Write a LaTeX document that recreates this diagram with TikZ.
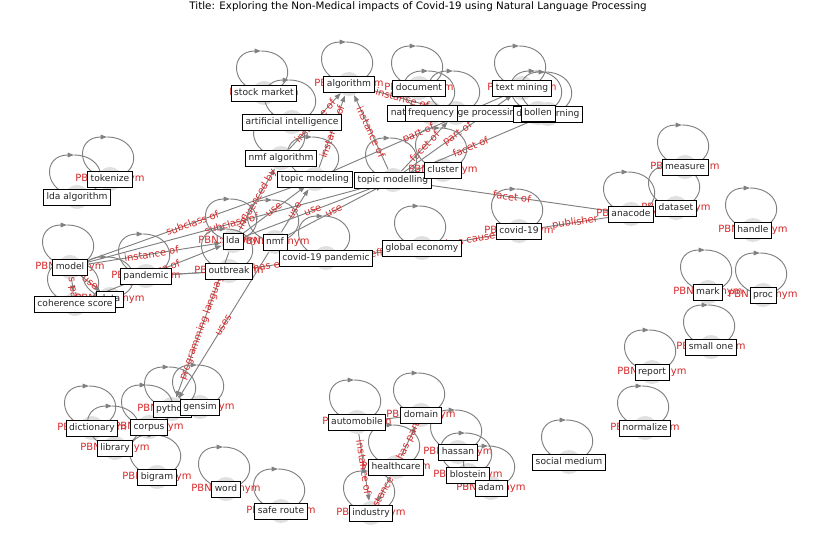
\documentclass[tikz,border=0pt]{standalone}
\usepackage{fontspec}
\setmainfont{DejaVu Sans}
\usetikzlibrary{arrows.meta}
\definecolor{pbnred}{RGB}{214,39,40}
\definecolor{linkgray}{RGB}{128,128,128}
\tikzset{
	marker/.style={circle, fill=black!12, minimum size=20.5pt, inner sep=0pt},
	link/.style={draw=linkgray, line width=0.8pt, -{Triangle[length=5.5pt,width=4pt]}},
	elab/.style={sloped, midway, text=pbnred, font=\fontsize{8.5}{10}\selectfont, inner sep=0pt},
	synlab/.style={text=pbnred, font=\fontsize{8.5}{10}\selectfont, inner sep=0pt},
	lbl/.style={draw=black, fill=white, line width=0.8pt, text=black!85, font=\fontsize{7.8}{9}\selectfont, inner xsep=2.6pt, inner ysep=3pt, text height=6pt, text depth=1.7pt}
}
\def\termlist{sm/264/93/stock market, alg/349/84/algorithm, doc/419/88/document, tm/522/88/text mining,
	nlp/456/113/natural language processing, freq/431/113/frequency, dl/548/114/deep learning, bol/538/113/bollen,
	ai/292/122/artificial intelligence, nmfa/281/158/nmf algorithm, tmg/315/179/topic modeling, tml/393/180/topic modelling,
	clu/443/170/cluster, tok/110/179/tokenize, ldaa/77/197/lda algorithm, mea/685/167/measure, dset/676/208/dataset,
	ana/631/214/anacode, hdl/753/230/handle, cov/519/231/covid-19, ge/422/248/global economy, cp/326/258/covid-19 pandemic,
	lda/233/241/lda, nmf/275/242/nmf, ob/229/271/outbreak, pan/146/276/pandemic, model/70/267/model, data/110/299/data,
	cs/75/304/coherence score, mark/708/292/mark, proc/763/295/proc, so/711/347/small one, rep/652/372/report,
	norm/645/428/normalize, smed/569/462/social medium, auto/357/422/automobile, dom/421/415/domain, has/458/452/hassan,
	hc/396/467/healthcare, blo/468/475/blostein, adam/491/488/adam, ind/371/513/industry, dict/92/428/dictionary,
	py/172/409/python, gen/200/407/gensim, corp/149/427/corpus, lib/115/448/library, big/157/477/bigram,
	word/226/489/word, sr/281/511/safe route}
\begin{document}
\begin{tikzpicture}[x=0.03cm, y=-0.03cm]
	\useasboundingbox (0,0) rectangle (837,559);
	\node[font=\fontsize{8.8}{10}\selectfont] (title) at (418,7) {Title: Exploring the Non-Medical impacts of Covid-19 using Natural Language Processing};
	\foreach \n/\x/\y/\t in \termlist {
		\node[marker] (\n) at (\x,\y) {};
	}
	\draw[link] (model) -- node[elab]{subclass of} (tmg);
	\draw[link] (model) -- node[elab]{subclass of} (tml);
	\draw[link] (model) -- node[elab]{instance of} (lda);
	\draw[link] (model) -- node[elab]{use} (data);
	\draw[link] (model) -- node[elab]{has part} (cs);
	\draw[link] (cs) -- node[elab]{instance of} (lda);
	\draw[link] (lda) -- node[elab]{use} (tmg);
	\draw[link] (nmf) -- node[elab]{use} (tmg);
	\draw[link] (lda) -- node[elab]{use} (tml);
	\draw[link] (nmf) -- node[elab]{use} (tml);
	\draw[link] (lda) -- node[elab]{influenced by} (nmfa);
	\draw[link] (nmfa) -- node[elab]{instance of} (alg);
	\draw[link] (tmg) -- node[elab]{instance of} (alg);
	\draw[link] (tml) -- node[elab]{instance of} (alg);
	\draw[link] (alg) -- node[elab]{instance of} (nlp);
	\draw[link] (tmg) -- node[elab]{part of} (tm);
	\draw[link] (tml) -- node[elab]{facet of} (nlp);
	\draw[link] (tml) -- node[elab]{part of} (tm);
	\draw[link] (tml) -- node[elab]{facet of} (dl);
	\draw[link] (tml) -- node[elab]{facet of} (ana);
	\draw[link] (cov) -- node[elab]{publisher} (ana);
	\draw[link] (ge) -- node[elab]{has cause} (cov);
	\draw[link] (cp) -- node[elab]{has effect} (ge);
	\draw[link] (ob) -- node[elab]{has effect} (cp);
	\draw[link] (pan) -- (ob);
	\draw[link] (ob) -- (pan);
	\draw[link] (lda) -- node[elab]{programming language} (py);
	\draw[link] (nmf) -- node[elab]{uses} (py);
	\draw[link] (auto) -- node[elab]{instance of} (ind);
	\draw[link] (auto) -- (dom);
	\draw[link] (hc) -- node[elab]{has part} (dom);
	\draw[link] (hc) -- node[elab]{instance of} (ind);
	\foreach \n/\x/\y/\t in \termlist {
		\begin{scope}[shift={(\n.center)}]
			\draw[link] (0,0) .. controls (-35,-5) and (-35,-42) .. (-3,-42);
			\draw[link, -] (-3,-42) .. controls (29,-42) and (35,-5) .. (0,0);
		\end{scope}
		\node[synlab] at (\n) {PBN:synonym};
	}
	\foreach \n/\x/\y/\t in \termlist {
		\node[lbl] (\n-box) at (\n) {\t};
	}
\end{tikzpicture}
\end{document}
